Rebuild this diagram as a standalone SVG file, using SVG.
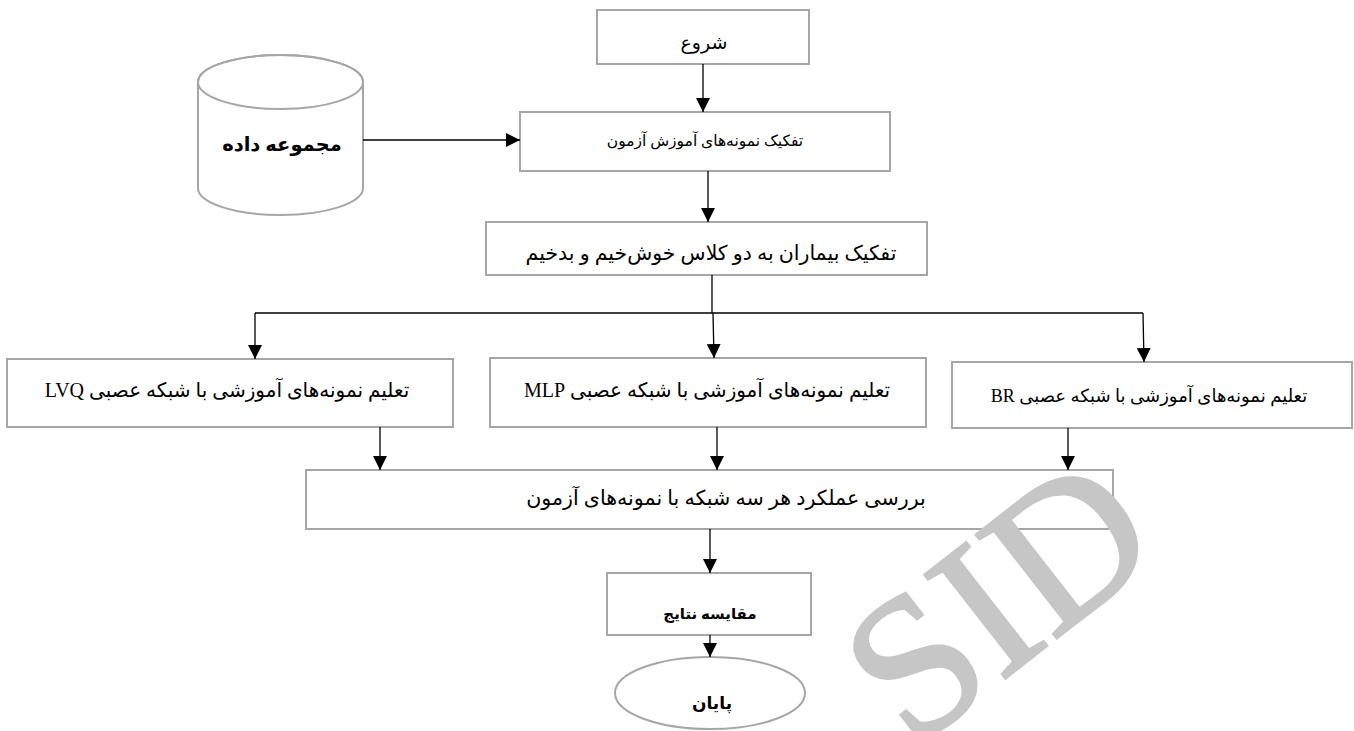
<svg xmlns="http://www.w3.org/2000/svg" width="1354" height="731" viewBox="0 0 1354 731">
<defs>
<style>
.box{fill:#ffffff;stroke:#a6a6a6;stroke-width:2}
.t{font-family:'Liberation Serif','DejaVu Sans',serif;font-size:15px;fill:#000;text-anchor:middle;direction:rtl}
.b{font-weight:bold}
.c{fill:none;stroke:#000;stroke-width:1.3}
.a{marker-end:url(#ah)}
.wm{font-family:'Liberation Serif',serif;font-size:200px;fill:#c6c6c6;stroke:#c6c6c6;stroke-width:3}
</style>
<marker id="ah" viewBox="0 0 14 14" refX="14" refY="7" markerWidth="14" markerHeight="14" markerUnits="userSpaceOnUse" orient="auto">
<path d="M0,0 L14,7 L0,14 z" fill="#000"/>
</marker>
</defs>
<rect width="1354" height="731" fill="#fff"/>
<g id="n-start"><rect class="box" x="597" y="10" width="212" height="54"/><text class="t" x="704" y="49" style="font-size:19px" direction="rtl">شروع</text></g>
<g id="n-data"><path class="box" d="M198,82 L198,188 A82.5,27 0 0 0 363,188 L363,82 A82.5,27 0 0 0 198,82 Z"/><ellipse cx="280.5" cy="82" rx="82.5" ry="27" fill="none" stroke="#a6a6a6" stroke-width="2"/><text class="t b" x="282" y="151" style="font-size:19.5px" direction="rtl">مجموعه داده</text></g>
<g id="n-split"><rect class="box" x="520" y="112" width="370" height="59"/><text class="t" x="705" y="146" style="font-size:15.5px" direction="rtl">تفکیک نمونه‌های آموزش آزمون</text></g>
<g id="n-classes"><rect class="box" x="486" y="222" width="441" height="53"/><text class="t" x="711" y="260" style="font-size:20.5px" direction="rtl">تفکیک بیماران به دو کلاس خوش‌خیم و بدخیم</text></g>
<g id="n-lvq"><rect class="box" x="7" y="359" width="446" height="68"/><text class="t" x="227" y="397" style="font-size:20px" direction="rtl">تعلیم نمونه‌های آموزشی با شبکه عصبی LVQ</text></g>
<g id="n-mlp"><rect class="box" x="490" y="358" width="436" height="69"/><text class="t" x="707" y="397" style="font-size:20px" direction="rtl">تعلیم نمونه‌های آموزشی با شبکه عصبی MLP</text></g>
<g id="n-br"><rect class="box" x="952" y="362" width="400" height="66"/><text class="t" x="1149" y="402" style="font-size:18px" direction="rtl">تعلیم نمونه‌های آموزشی با شبکه عصبی BR</text></g>
<g id="n-eval"><rect class="box" x="306" y="470" width="807" height="59"/><text class="t" x="726" y="505" style="font-size:20.6px" direction="rtl">بررسی عملکرد هر سه شبکه با نمونه‌های آزمون</text></g>
<g id="n-compare"><rect class="box" x="607" y="573" width="204" height="62"/><text class="t b" x="710" y="619" direction="rtl">مقایسه نتایج</text></g>
<g id="n-end"><ellipse class="box" cx="710" cy="693" rx="95" ry="36"/><text class="t b" x="712" y="709" style="font-size:17px" direction="rtl">پایان</text></g>
<g id="connectors">
<path class="c a" d="M703,64 L703,112"/>
<path class="c a" d="M363,140 L520,140"/>
<path class="c a" d="M708,171 L708,222"/>
<path class="c" d="M712,275 L712,313 M255,313 L1143,313"/>
<path class="c a" d="M255,313 L255,359"/>
<path class="c a" d="M713,313 L714,358"/>
<path class="c a" d="M1143,313 L1144,362"/>
<path class="c a" d="M380,427 L380,470"/>
<path class="c a" d="M717,427 L717,470"/>
<path class="c a" d="M1068,428 L1068,470"/>
<path class="c a" d="M710,529 L710,573"/>
<path class="c a" d="M710,635 L710,657"/>
</g>
<text class="wm" transform="translate(912,751) rotate(-38)" x="0" y="0">SID</text>
</svg>
